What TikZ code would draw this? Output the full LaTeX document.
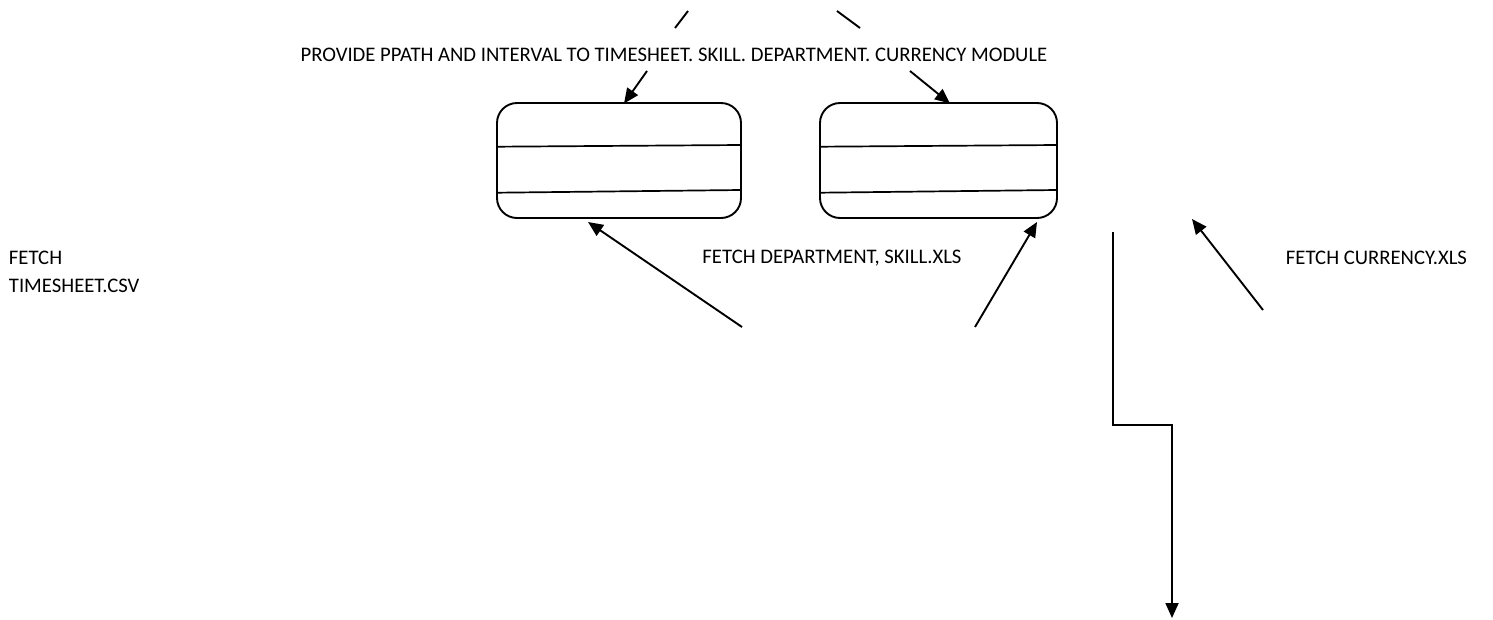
\documentclass[tikz,border=0pt]{standalone}
\usepackage{fontspec}
\setmainfont{Carlito}
\usetikzlibrary{arrows.meta}
\begin{document}
\begin{tikzpicture}[x=1pt,y=-1pt,
  line width=1.9pt,
  label/.style={font=\fontsize{20.7}{28}\selectfont, inner sep=0pt},
  module/.style={draw, rounded corners=20pt, minimum height=115pt, inner sep=0pt},
  flow/.style={-{Triangle[length=15pt,width=13pt]}},
  plain/.style={line width=1.7pt}]
\useasboundingbox (0,0) rectangle (1493,619);

% message text
\node[label] (msg) at (674,55) {PROVIDE PPATH AND INTERVAL TO TIMESHEET. SKILL. DEPARTMENT. CURRENCY MODULE};
\node[label, anchor=west, align=left] (fts) at (8,272) {FETCH\\TIMESHEET.CSV};
\node[label] (fds) at (832,258) {FETCH DEPARTMENT, SKILL.XLS};
\node[label, anchor=west] (fcur) at (1285,258) {FETCH CURRENCY.XLS};

% two modules, each split into three compartments
\node[module, minimum width=244pt] (ma) at (619,160.5) {};
\node[module, minimum width=237pt] (mb) at (938.5,160.5) {};
\draw[plain] (497,146.7) -- (741,145);
\draw[plain] (497,192.7) -- (741,190);
\draw[plain] (820,146.7) -- (1057,145);
\draw[plain] (820,192.7) -- (1057,190);

% stubs above the message
\coordinate (s1a) at (688,11); \coordinate (s1b) at (675,28);
\coordinate (s2a) at (837,11); \coordinate (s2b) at (860,28);
\draw (s1a) -- (s1b);
\draw (s2a) -- (s2b);

% arrows into the modules
\coordinate (pa) at (647,71);
\coordinate (pb) at (910,71);
\draw[flow] (pa) -- (624,103.5);
\draw[flow] (pb) -- (950,103.5);

\coordinate (qa) at (742,327);
\coordinate (qb) at (975,327);
\draw[flow] (qa) -- (588,222);
\draw[flow] (qb) -- (1037,222);

\coordinate (qc) at (1263,310);
\coordinate (qc2) at (1192,219);
\draw[flow] (qc) -- (qc2);

% output path
\coordinate (o1) at (1113,232);
\coordinate (o2) at (1113,425);
\coordinate (o3) at (1172,425);
\coordinate (o4) at (1172,618);
\draw[flow] (o1) -- (o2) -- (o3) -- (o4);
\end{tikzpicture}
\end{document}
